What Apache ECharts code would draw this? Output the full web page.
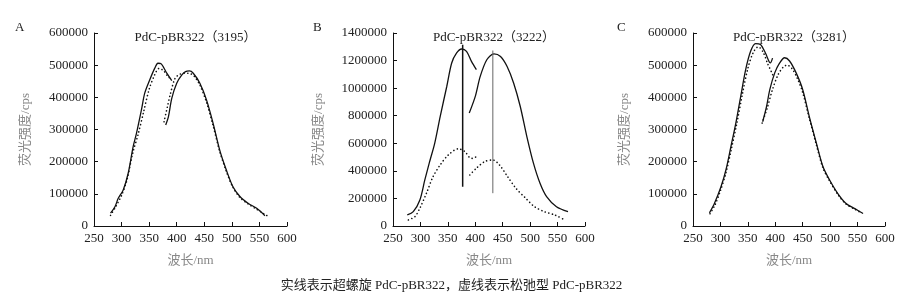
<!DOCTYPE html>
<html>
<head>
<meta charset="utf-8">
<title>PdC-pBR322</title>
<script src="https://cdn.jsdelivr.net/npm/echarts@6/dist/echarts.min.js"></script>
<style>
    html, body { margin: 0; padding: 0; background: #fff; }
    #main { width: 903px; height: 298px; }
</style>
</head>
<body>
<div id="main"></div>
<script>
// [wavelength nm, intensity cps]
var aSolidL = [[280, 40000], [288, 60000], [294, 86000], [303, 112000], [312, 164000], [321, 247000], [327, 288000], [336, 361000], [342, 413000], [351, 454000], [360, 490000], [366, 506000], [372, 504000], [382, 475000], [391, 452000]]
var aDotL = [[280, 33000], [290, 62000], [300, 95000], [310, 145000], [320, 225000], [330, 285000], [340, 355000], [350, 425000], [360, 470000], [368, 490000], [376, 483000], [384, 465000], [392, 455000]]
var aSolidR = [[380, 314000], [385, 340000], [391, 397000], [400, 444000], [409, 469000], [416, 480000], [423, 482000], [430, 475000], [442, 444000], [454, 392000], [466, 319000], [478, 236000], [490, 174000], [502, 122000], [515, 91000], [530, 70000], [545, 55000], [560, 32000]]
var aDotR = [[377, 324000], [383, 370000], [388, 407000], [397, 459000], [406, 472000], [415, 475000], [424, 474000], [432, 465000], [442, 438000], [454, 385000], [466, 312000], [478, 232000], [490, 170000], [502, 120000], [515, 88000], [530, 68000], [545, 52000], [558, 38000], [569, 27000]]

var bSolidL = [[276, 80000], [287, 104000], [299, 189000], [308, 334000], [317, 470000], [326, 600000], [336, 794000], [348, 1012000], [357, 1182000], [366, 1255000], [375, 1284000], [384, 1267000], [393, 1194000], [402, 1134000]]
var bDotL = [[278, 44000], [290, 68000], [299, 129000], [311, 238000], [323, 358000], [336, 443000], [351, 516000], [369, 560000], [381, 540000], [390, 495000], [396, 490000], [402, 505000]]
var bSolidR = [[389, 819000], [400, 940000], [409, 1085000], [421, 1206000], [434, 1249000], [446, 1230000], [458, 1157000], [470, 1036000], [482, 867000], [494, 649000], [506, 456000], [518, 310000], [530, 213000], [548, 140000], [569, 104000]]
var bDotR = [[390, 370000], [402, 419000], [417, 467000], [432, 479000], [444, 443000], [459, 358000], [474, 274000], [492, 201000], [508, 140000], [526, 104000], [545, 80000], [563, 44000]]
var bPeak1 = [[377, 285000], [377, 1315000]]
var bPeak2 = [[432, 238000], [432, 1273000]]

var cSolidL = [[280, 41000], [289, 70000], [301, 122000], [310, 174000], [319, 246000], [328, 319000], [337, 403000], [346, 486000], [355, 543000], [364, 567000], [373, 564000], [382, 538000], [391, 507000], [395, 522000]]
var cDotL = [[281, 38000], [290, 65000], [300, 110000], [310, 165000], [320, 240000], [330, 320000], [340, 410000], [350, 490000], [360, 540000], [369, 557000], [378, 540000], [386, 505000], [393, 479000], [397, 463000]]
var cSolidR = [[377, 324000], [384, 371000], [390, 424000], [399, 476000], [408, 507000], [417, 523000], [426, 513000], [438, 476000], [450, 424000], [462, 340000], [475, 257000], [487, 184000], [499, 143000], [514, 101000], [529, 70000], [545, 54000], [560, 39000]]
var cDotR = [[376, 320000], [385, 365000], [395, 425000], [405, 470000], [415, 495000], [422, 500000], [430, 490000], [440, 460000], [450, 415000], [462, 335000], [475, 252000], [487, 180000], [499, 140000], [514, 98000], [529, 68000], [545, 52000], [558, 40000]]

var panelTitles = ['PdC-pBR322（3195）', 'PdC-pBR322（3222）', 'PdC-pBR322（3281）']
var panelLetters = ['A', 'B', 'C']
var yMax = [600000, 1400000, 600000]
var yStep = [100000, 200000, 100000]
var xName = '波长/nm'
var yName = '荧光强度/cps'
var caption = '实线表示超螺旋 PdC-pBR322，虚线表示松弛型 PdC-pBR322'

var serif = '"Liberation Serif", "Noto Sans CJK SC", serif'
var grids = [
    { left: 94, top: 33, width: 193, height: 193 },
    { left: 393, top: 33, width: 192, height: 193 },
    { left: 693, top: 33, width: 192, height: 193 }
]

var titles = []
var xAxes = []
var yAxes = []
for (var i = 0; i < 3; i++) {
    var g = grids[i]
    titles.push({
        text: panelTitles[i], left: g.left + g.width / 2, top: 26, textAlign: 'center',
        textStyle: { fontFamily: serif, fontSize: 13, fontWeight: 'normal', color: '#222' }
    })
    titles.push({
        text: panelLetters[i], left: [10, 308, 612][i], top: 16,
        textStyle: { fontFamily: serif, fontSize: 13, fontWeight: 'normal', color: '#222' }
    })
    xAxes.push({
        type: 'value', gridIndex: i, min: 250, max: 600, interval: 50,
        name: xName, nameLocation: 'middle', nameGap: 28,
        nameTextStyle: { fontFamily: serif, fontSize: 13, color: '#888' },
        axisLine: { lineStyle: { color: '#111', width: 1 } },
        axisTick: { inside: true, length: 4, lineStyle: { color: '#111' } },
        axisLabel: { fontFamily: serif, fontSize: 13, color: '#222', margin: 6 },
        splitLine: { show: false }
    })
    yAxes.push({
        type: 'value', gridIndex: i, min: 0, max: yMax[i], interval: yStep[i],
        name: yName, nameLocation: 'middle', nameGap: i == 1 ? 68 : 62, nameRotate: 90,
        nameTextStyle: { fontFamily: serif, fontSize: 13, color: '#888' },
        axisLine: { show: true, lineStyle: { color: '#111', width: 1 } },
        axisTick: { show: true, inside: true, length: 4, lineStyle: { color: '#111' } },
        axisLabel: {
            fontFamily: serif, fontSize: 13, color: '#222', margin: 6,
            formatter: function (v) { return String(v) }
        },
        splitLine: { show: false }
    })
}
titles.push({
    text: caption, left: 'center', top: 274,
    textStyle: { fontFamily: serif, fontSize: 13, fontWeight: 'normal', color: '#222' }
})

function curve(data, idx, dotted) {
    return {
        type: 'line', xAxisIndex: idx, yAxisIndex: idx, data: data,
        showSymbol: false, smooth: 0.3, silent: true,
        lineStyle: dotted
            ? { color: '#111', width: 1.6, type: [0.1, 3.6], cap: 'round' }
            : { color: '#111', width: 1.3 }
    }
}

var series = [
    curve(aSolidL, 0, false), curve(aDotL, 0, true), curve(aSolidR, 0, false), curve(aDotR, 0, true),
    curve(bSolidL, 1, false), curve(bDotL, 1, true), curve(bSolidR, 1, false), curve(bDotR, 1, true),
    curve(cSolidL, 2, false), curve(cDotL, 2, true), curve(cSolidR, 2, false), curve(cDotR, 2, true),
    // peak markers in panel B
    { type: 'line', xAxisIndex: 1, yAxisIndex: 1, data: bPeak1, showSymbol: false, silent: true, lineStyle: { color: '#111', width: 1.5 } },
    { type: 'line', xAxisIndex: 1, yAxisIndex: 1, data: bPeak2, showSymbol: false, silent: true, lineStyle: { color: '#666', width: 1 } }
]

var myChart = echarts.init(document.getElementById('main'))
myChart.setOption({
    animation: false,
    backgroundColor: '#fff',
    title: titles,
    grid: grids,
    xAxis: xAxes,
    yAxis: yAxes,
    series: series
})
</script>
</body>
</html>
